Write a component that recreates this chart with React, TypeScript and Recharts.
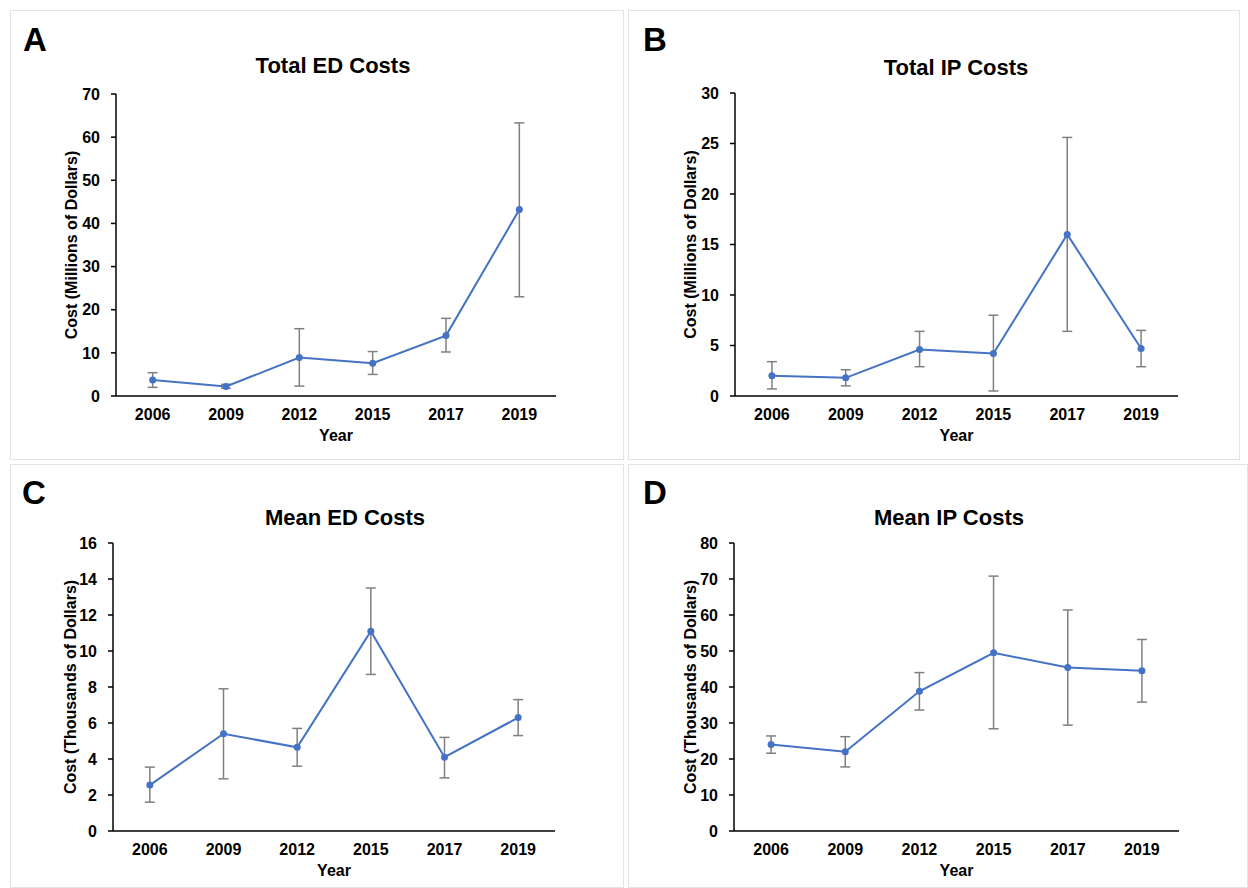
import React from 'react';
import { LineChart, Line, XAxis, YAxis, ErrorBar } from 'recharts';

// Survey years shared by all four panels
const years = ['2006', '2009', '2012', '2015', '2017', '2019'];

// A: Total ED costs (millions)
const totalEdMean = [3.7, 2.2, 8.9, 7.6, 14.0, 43.2];
const totalEdLow = [2.0, 1.8, 2.3, 5.0, 10.2, 23.0];
const totalEdHigh = [5.4, 2.7, 15.6, 10.3, 18.0, 63.3];
const totalEdTicks = [0, 10, 20, 30, 40, 50, 60, 70];

// B: Total IP costs (millions)
const totalIpMean = [2.0, 1.8, 4.6, 4.2, 16.0, 4.7];
const totalIpLow = [0.7, 1.0, 2.9, 0.5, 6.4, 2.9];
const totalIpHigh = [3.4, 2.6, 6.4, 8.0, 25.6, 6.5];
const totalIpTicks = [0, 5, 10, 15, 20, 25, 30];

// C: Mean ED costs (thousands)
const meanEdMean = [2.55, 5.4, 4.65, 11.1, 4.1, 6.3];
const meanEdLow = [1.6, 2.9, 3.6, 8.7, 2.95, 5.3];
const meanEdHigh = [3.55, 7.9, 5.7, 13.5, 5.2, 7.3];
const meanEdTicks = [0, 2, 4, 6, 8, 10, 12, 14, 16];

// D: Mean IP costs (thousands)
const meanIpMean = [24.0, 22.0, 38.8, 49.5, 45.4, 44.5];
const meanIpLow = [21.6, 17.8, 33.6, 28.4, 29.4, 35.8];
const meanIpHigh = [26.4, 26.2, 44.0, 70.8, 61.4, 53.2];
const meanIpTicks = [0, 10, 20, 30, 40, 50, 60, 70, 80];

const BLUE = '#4472C4';
const FONT = '"Liberation Sans", Arial, Helvetica, sans-serif';

interface Box { x: number; y: number; w: number; h: number }
interface Plot { x1: number; x2: number; y1: number; y2: number }

interface PanelProps {
  box: Box;
  plot: Plot;
  letter: string;
  letterPos: [number, number];
  title: string;
  titlePos: [number, number];
  yLabel: string;
  yLabelX: number;
  ticks: number[];
  means: number[];
  lows: number[];
  highs: number[];
}

function Panel({
  box, plot, letter, letterPos, title, titlePos, yLabel, yLabelX, ticks, means, lows, highs,
}: PanelProps) {
  // error bars need [below, above] distances from the mean
  const data = years.map((year, i) => ({
    year,
    value: means[i],
    err: [means[i] - lows[i], highs[i] - means[i]],
  }));

  const yAxisWidth = plot.x1 - box.x;
  const xAxisHeight = box.y + box.h - plot.y2;
  const plotW = plot.x2 - plot.x1;
  const pad = plotW / 12;

  return (
    <>
      <div
        style={{
          position: 'absolute', left: box.x, top: box.y, width: box.w, height: box.h,
          border: '1px solid #e4e4e4', boxSizing: 'border-box',
        }}
      />
      <div
        style={{
          position: 'absolute', left: letterPos[0], top: letterPos[1] - 18,
          fontSize: 33, fontWeight: 700, lineHeight: '36px',
        }}
      >
        {letter}
      </div>
      <div
        style={{
          position: 'absolute', left: titlePos[0] - 200, top: titlePos[1] - 13, width: 400,
          textAlign: 'center', fontSize: 22, fontWeight: 700, lineHeight: '26px',
        }}
      >
        {title}
      </div>
      <div style={{ position: 'absolute', left: box.x, top: box.y }}>
        <LineChart
          width={box.w}
          height={box.h}
          data={data}
          margin={{ top: plot.y1 - box.y, right: box.x + box.w - plot.x2, bottom: 0, left: 0 }}
        >
          <XAxis
            dataKey="year"
            height={xAxisHeight}
            padding={{ left: pad, right: pad }}
            axisLine={{ stroke: '#000', strokeWidth: 1.5 }}
            tickLine={false}
            tickSize={5}
            tickMargin={8}
            tick={{ fill: '#000', fontSize: 16, fontWeight: 700 }}
            label={{
              value: 'Year', position: 'insideTop', offset: 34,
              style: { fill: '#000', fontSize: 16, fontWeight: 700 },
            }}
          />
          <YAxis
            width={yAxisWidth}
            domain={[ticks[0], ticks[ticks.length - 1]]}
            ticks={ticks}
            interval={0}
            axisLine={{ stroke: '#000', strokeWidth: 1.5 }}
            tickLine={{ stroke: '#000', strokeWidth: 1.5 }}
            tickSize={5}
            tickMargin={11}
            tick={{ fill: '#000', fontSize: 16, fontWeight: 700 }}
            label={{
              value: yLabel, angle: -90, position: 'insideLeft', offset: yLabelX - box.x,
              style: { fill: '#000', fontSize: 16, fontWeight: 700, textAnchor: 'middle' },
            }}
          />
          <Line
            type="linear"
            dataKey="value"
            stroke={BLUE}
            strokeWidth={2}
            dot={{ r: 3.5, fill: BLUE, stroke: BLUE, strokeWidth: 0 }}
            isAnimationActive={false}
          >
            <ErrorBar
              dataKey="err"
              direction="y"
              width={5}
              stroke="#808080"
              strokeWidth={1.5}
              isAnimationActive={false}
            />
          </Line>
        </LineChart>
      </div>
    </>
  );
}

export default function App() {
  return (
    <div
      style={{
        position: 'absolute', left: 0, top: 0, width: 1248, height: 888,
        background: '#fff', fontFamily: FONT, color: '#000', overflow: 'hidden',
      }}
    >
      <Panel
        box={{ x: 10, y: 10, w: 614, h: 450 }}
        plot={{ x1: 116, x2: 556, y1: 94, y2: 396 }}
        letter="A"
        letterPos={[23, 40]}
        title="Total ED Costs"
        titlePos={[333, 66]}
        yLabel="Cost (Millions of Dollars)"
        yLabelX={71}
        ticks={totalEdTicks}
        means={totalEdMean}
        lows={totalEdLow}
        highs={totalEdHigh}
      />
      <Panel
        box={{ x: 628, y: 10, w: 612, h: 450 }}
        plot={{ x1: 735, x2: 1178, y1: 93, y2: 396 }}
        letter="B"
        letterPos={[643, 40]}
        title="Total IP Costs"
        titlePos={[956, 68]}
        yLabel="Cost (Millions of Dollars)"
        yLabelX={690}
        ticks={totalIpTicks}
        means={totalIpMean}
        lows={totalIpLow}
        highs={totalIpHigh}
      />
      <Panel
        box={{ x: 10, y: 464, w: 614, h: 424 }}
        plot={{ x1: 113, x2: 555, y1: 543, y2: 831 }}
        letter="C"
        letterPos={[22, 493]}
        title="Mean ED Costs"
        titlePos={[345, 518]}
        yLabel="Cost (Thousands of Dollars)"
        yLabelX={70}
        ticks={meanEdTicks}
        means={meanEdMean}
        lows={meanEdLow}
        highs={meanEdHigh}
      />
      <Panel
        box={{ x: 628, y: 464, w: 620, h: 424 }}
        plot={{ x1: 734, x2: 1179, y1: 543, y2: 831 }}
        letter="D"
        letterPos={[643, 493]}
        title="Mean IP Costs"
        titlePos={[949, 518]}
        yLabel="Cost (Thousands of Dollars)"
        yLabelX={690}
        ticks={meanIpTicks}
        means={meanIpMean}
        lows={meanIpLow}
        highs={meanIpHigh}
      />
    </div>
  );
}
